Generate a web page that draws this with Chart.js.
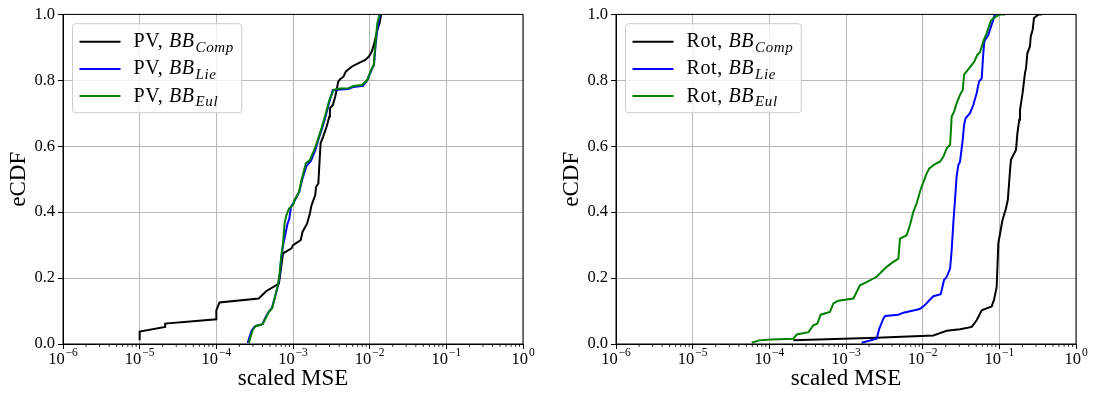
<!DOCTYPE html>
<html>
<head>
<meta charset="utf-8">
<script src="https://cdn.jsdelivr.net/npm/chart.js@4.4.0/dist/chart.umd.min.js"></script>
<style>
html, body { margin: 0; padding: 0; background: #fff; overflow: hidden; }
#wrap { position: relative; width: 1095px; height: 393px; }
canvas { position: absolute; top: 0; }
#pv { left: 0; }
#rot { left: 553px; }
</style>
</head>
<body>
<div id="wrap">
	<canvas id="pv" width="542" height="393" style="width:542px;height:393px"></canvas>
	<canvas id="rot" width="542" height="393" style="width:542px;height:393px"></canvas>
</div>
<script>
// axis ticks
var xTicks = [1e-6, 1e-5, 1e-4, 1e-3, 1e-2, 1e-1, 1];
var yTicks = [0, 0.2, 0.4, 0.6, 0.8, 1.0];

// left panel: PV
var pvLabels = ['PV, BB_Comp', 'PV, BB_Lie', 'PV, BB_Eul'];
var pvCompX = [1.0e-5, 1.0e-5, 2.15e-5, 2.15e-5, 1.0e-4, 1.0e-4, 1.10e-4, 3.57e-4, 4.46e-4, 6.55e-4, 7.41e-4, 9.55e-4, 1.0e-3, 1.26e-3, 1.33e-3, 1.53e-3, 1.66e-3, 1.74e-3, 1.95e-3, 2.0e-3, 2.14e-3, 2.20e-3, 2.29e-3, 2.48e-3, 2.75e-3, 2.98e-3, 3.03e-3, 3.31e-3, 3.55e-3, 3.72e-3, 3.89e-3, 4.11e-3, 4.55e-3, 4.90e-3, 5.89e-3, 7.16e-3, 8.77e-3, 9.77e-3, 1.07e-2, 1.15e-2, 1.26e-2, 1.35e-2, 1.41e-2];
var pvCompY = [0.011, 0.038, 0.052, 0.062, 0.075, 0.102, 0.126, 0.138, 0.160, 0.183, 0.275, 0.29, 0.30, 0.315, 0.34, 0.366, 0.396, 0.42, 0.452, 0.477, 0.487, 0.538, 0.609, 0.63, 0.66, 0.69, 0.715, 0.725, 0.75, 0.773, 0.796, 0.803, 0.811, 0.827, 0.842, 0.852, 0.862, 0.872, 0.888, 0.913, 0.954, 0.974, 1.0];
var pvLieX = [2.57e-4, 2.66e-4, 2.90e-4, 3.20e-4, 4.00e-4, 4.30e-4, 4.80e-4, 5.30e-4, 5.75e-4, 6.40e-4, 6.75e-4, 7.05e-4, 7.50e-4, 7.90e-4, 8.50e-4, 8.95e-4, 9.40e-4, 1.0e-3, 1.06e-3, 1.21e-3, 1.31e-3, 1.50e-3, 1.72e-3, 1.97e-3, 2.10e-3, 2.40e-3, 2.66e-3, 2.98e-3, 3.30e-3, 4.11e-3, 5.30e-3, 6.17e-3, 8.20e-3, 9.30e-3, 1.06e-2, 1.14e-2, 1.20e-2, 1.28e-2, 1.37e-2];
var pvLieY = [0.003, 0.016, 0.042, 0.054, 0.06, 0.077, 0.097, 0.109, 0.138, 0.178, 0.214, 0.264, 0.305, 0.330, 0.366, 0.38, 0.416, 0.425, 0.437, 0.462, 0.497, 0.540, 0.556, 0.590, 0.614, 0.655, 0.69, 0.735, 0.77, 0.772, 0.774, 0.780, 0.783, 0.80, 0.832, 0.847, 0.913, 0.965, 1.0];
var pvEulX = [2.66e-4, 2.75e-4, 2.98e-4, 3.24e-4, 4.03e-4, 4.37e-4, 4.83e-4, 5.37e-4, 5.75e-4, 6.35e-4, 6.68e-4, 7.01e-4, 7.41e-4, 7.76e-4, 8.17e-4, 8.85e-4, 1.0e-3, 1.05e-3, 1.20e-3, 1.29e-3, 1.47e-3, 1.66e-3, 1.93e-3, 2.07e-3, 2.36e-3, 2.61e-3, 2.98e-3, 3.39e-3, 4.11e-3, 5.30e-3, 6.17e-3, 7.94e-3, 9.23e-3, 1.05e-2, 1.13e-2, 1.19e-2, 1.26e-2, 1.35e-2];
var pvEulY = [0.003, 0.016, 0.042, 0.054, 0.06, 0.077, 0.097, 0.109, 0.138, 0.178, 0.214, 0.264, 0.305, 0.366, 0.39, 0.411, 0.421, 0.437, 0.462, 0.497, 0.548, 0.558, 0.594, 0.614, 0.655, 0.69, 0.74, 0.771, 0.775, 0.776, 0.783, 0.786, 0.80, 0.832, 0.847, 0.913, 0.974, 1.0];

// right panel: Rot
var rotLabels = ['Rot, BB_Comp', 'Rot, BB_Lie', 'Rot, BB_Eul'];
var rotCompX = [2.06e-4, 2.51e-3, 1.38e-2, 1.68e-2, 2.06e-2, 3.07e-2, 4.37e-2, 5.06e-2, 5.89e-2, 6.31e-2, 7.94e-2, 8.51e-2, 9.23e-2, 9.70e-2, 1.04e-1, 1.10e-1, 1.22e-1, 1.29e-1, 1.38e-1, 1.42e-1, 1.65e-1, 1.72e-1, 1.82e-1, 1.86e-1, 2.01e-1, 2.16e-1, 2.23e-1, 2.32e-1, 2.51e-1, 2.57e-1, 2.72e-1, 2.83e-1, 3.24e-1, 3.56e-1];
var rotCompY = [0.011, 0.019, 0.026, 0.033, 0.04, 0.045, 0.052, 0.072, 0.102, 0.105, 0.114, 0.133, 0.173, 0.305, 0.345, 0.376, 0.411, 0.437, 0.528, 0.56, 0.589, 0.639, 0.68, 0.71, 0.761, 0.822, 0.837, 0.882, 0.903, 0.933, 0.953, 0.989, 1.0, 1.0];
var rotLieX = [1.60e-3, 2.51e-3, 2.72e-3, 3.07e-3, 3.24e-3, 4.82e-3, 5.62e-3, 8.36e-3, 9.23e-3, 1.07e-2, 1.25e-2, 1.38e-2, 1.72e-2, 1.82e-2, 1.90e-2, 2.06e-2, 2.28e-2, 2.39e-2, 2.51e-2, 2.64e-2, 2.77e-2, 2.92e-2, 3.07e-2, 3.33e-2, 3.47e-2, 3.63e-2, 4.14e-2, 4.57e-2, 5.06e-2, 5.43e-2, 5.89e-2, 6.18e-2, 6.37e-2, 7.19e-2, 7.94e-2, 8.77e-2];
var rotLieY = [0.004, 0.016, 0.047, 0.077, 0.085, 0.089, 0.095, 0.104, 0.107, 0.118, 0.135, 0.145, 0.151, 0.175, 0.194, 0.204, 0.229, 0.285, 0.366, 0.437, 0.508, 0.543, 0.553, 0.619, 0.665, 0.685, 0.70, 0.725, 0.761, 0.796, 0.806, 0.882, 0.918, 0.938, 0.969, 1.0];
var rotEulX = [5.89e-5, 7.41e-5, 1.05e-4, 2.06e-4, 2.28e-4, 3.24e-4, 3.75e-4, 4.23e-4, 4.68e-4, 6.17e-4, 6.84e-4, 7.94e-4, 1.25e-3, 1.52e-3, 1.86e-3, 2.51e-3, 3.39e-3, 4.14e-3, 4.82e-3, 5.06e-3, 6.18e-3, 6.84e-3, 7.55e-3, 8.36e-3, 9.23e-3, 9.70e-3, 1.13e-2, 1.22e-2, 1.45e-2, 1.68e-2, 1.86e-2, 2.06e-2, 2.28e-2, 2.39e-2, 2.57e-2, 2.77e-2, 3.07e-2, 3.33e-2, 3.47e-2, 3.75e-2, 4.37e-2, 4.72e-2, 5.16e-2, 5.60e-2, 6.18e-2, 6.84e-2, 7.71e-2, 8.36e-2, 1.02e-1, 1.19e-1];
var rotEulY = [0.004, 0.011, 0.014, 0.016, 0.029, 0.036, 0.057, 0.062, 0.089, 0.097, 0.123, 0.131, 0.138, 0.178, 0.188, 0.204, 0.234, 0.249, 0.259, 0.32, 0.33, 0.361, 0.401, 0.427, 0.462, 0.477, 0.518, 0.533, 0.546, 0.553, 0.568, 0.594, 0.604, 0.69, 0.705, 0.73, 0.756, 0.771, 0.817, 0.827, 0.847, 0.857, 0.877, 0.885, 0.918, 0.943, 0.979, 0.989, 1.0, 1.0];

var lineColors = ['#000000', '#0000ff', '#008000'];
var FONT = '"Liberation Serif", "DejaVu Serif", serif';

Chart.defaults.font.family = FONT;
Chart.defaults.color = '#000';

function splitLabel(label) {
	var parts = label.split(', ');
	var m = parts[1].split('_');
	return {head: parts[0] + ', ', base: m[0], sub: m[1]};
}

// frame, minor ticks and 10^k labels on the log axis
var axesFrame = {
	id: 'axesFrame',
	afterDatasetsDraw: function(chart) {
		var ctx = chart.ctx, a = chart.chartArea, xs = chart.scales.x;
		ctx.save();
		ctx.strokeStyle = '#000';
		ctx.lineWidth = 1;
		ctx.strokeRect(a.left, a.top, a.right - a.left, a.bottom - a.top);
		ctx.lineWidth = 0.8;
		ctx.beginPath();
		for (var k = 0; k < xTicks.length - 1; k++) {
			for (var m = 2; m < 10; m++) {
				var px = xs.getPixelForValue(m * xTicks[k]);
				ctx.moveTo(px, a.bottom);
				ctx.lineTo(px, a.bottom + 3);
			}
		}
		ctx.stroke();
		ctx.fillStyle = '#000';
		ctx.textAlign = 'left';
		ctx.textBaseline = 'alphabetic';
		xs.ticks.forEach(function(t) {
			var exp = String(Math.round(Math.log10(t.value))).replace('-', '\u2212');
			ctx.font = '16.5px ' + FONT;
			var w1 = ctx.measureText('10').width;
			ctx.font = '11.5px ' + FONT;
			var w2 = ctx.measureText(exp).width;
			var x0 = xs.getPixelForValue(t.value) - (w1 + w2 + 1) / 2;
			var base = a.bottom + 19.5;
			ctx.font = '16.5px ' + FONT;
			ctx.fillText('10', x0, base);
			ctx.font = '11.5px ' + FONT;
			ctx.fillText(exp, x0 + w1 + 1, base - 7.3);
		});
		ctx.restore();
	}
};

// matplotlib style legend box, upper left
var boxLegend = {
	id: 'boxLegend',
	afterDraw: function(chart) {
		var ctx = chart.ctx, area = chart.chartArea, sets = chart.data.datasets;
		var fMain = '20px ' + FONT, fIt = 'italic 20px ' + FONT, fSub = 'italic 15px ' + FONT;
		var rows = [], maxW = 0;
		ctx.save();
		ctx.letterSpacing = '0.6px';
		sets.forEach(function(ds) {
			var p = splitLabel(ds.label);
			ctx.font = fMain; p.w1 = ctx.measureText(p.head).width;
			ctx.font = fIt; p.w2 = ctx.measureText(p.base).width;
			ctx.font = fSub; p.w3 = ctx.measureText(p.sub).width;
			maxW = Math.max(maxW, p.w1 + p.w2 + p.w3 + 1);
			rows.push(p);
		});
		var x = area.left + 9.5, y = area.top + 9.3, w = 61 + maxW + 8, h = 89;
		ctx.beginPath();
		ctx.roundRect(x, y, w, h, 3);
		ctx.fillStyle = 'rgba(255,255,255,0.8)';
		ctx.fill();
		ctx.strokeStyle = '#cccccc';
		ctx.lineWidth = 1;
		ctx.stroke();
		rows.forEach(function(p, i) {
			var cy = y + 18 + i * 27.2;
			ctx.beginPath();
			ctx.moveTo(x + 7, cy);
			ctx.lineTo(x + 48, cy);
			ctx.strokeStyle = sets[i].borderColor;
			ctx.lineWidth = 2;
			ctx.stroke();
			var tx = x + 61, base = cy + 5.5;
			ctx.fillStyle = '#000';
			ctx.textAlign = 'left';
			ctx.textBaseline = 'alphabetic';
			ctx.font = fMain; ctx.fillText(p.head, tx, base); tx += p.w1;
			ctx.font = fIt; ctx.fillText(p.base, tx, base); tx += p.w2 + 1;
			ctx.font = fSub; ctx.fillText(p.sub, tx, base + 4.5);
		});
		ctx.restore();
	}
};

function initData(labels, xs, ys) {
	var datasets = [];
	for (var i = 0; i < labels.length; i++) {
		var pts = [];
		for (var j = 0; j < xs[i].length; j++) pts.push({x: xs[i][j], y: ys[i][j]});
		datasets.push({
			label: labels[i],
			data: pts,
			borderColor: lineColors[i],
			backgroundColor: lineColors[i],
			borderWidth: 2,
			pointRadius: 0,
			tension: 0,
			fill: false,
			order: labels.length - 1 - i
		});
	}
	return {datasets: datasets};
}

function initConfig(data) {
	return {
		type: 'line',
		data: data,
		options: {
			responsive: false,
			animation: false,
			events: [],
			layout: {padding: {top: 14.4, right: 19, left: 0, bottom: 0}},
			plugins: {legend: {display: false}, tooltip: {enabled: false}},
			scales: {
				x: {
					type: 'logarithmic',
					min: 1e-6,
					max: 1,
					afterBuildTicks: function(s) { s.ticks = xTicks.map(function(v) { return {value: v, major: true}; }); },
					afterFit: function(s) { s.height = 49; },
					ticks: {display: false, autoSkip: false, maxRotation: 0},
					grid: {color: '#b8b8b8', lineWidth: 1, tickColor: '#000', tickLength: 5, tickWidth: 1},
					border: {color: '#000', width: 1},
					title: {display: true, text: 'scaled MSE', color: '#000', font: {size: 23}, padding: {top: 0, bottom: 0}}
				},
				y: {
					type: 'linear',
					min: 0,
					max: 1,
					afterBuildTicks: function(s) { s.ticks = yTicks.map(function(v) { return {value: v}; }); },
					afterFit: function(s) { s.width = 63; },
					ticks: {padding: 3, color: '#000', font: {size: 16.5}, callback: function(v) { return Number(v).toFixed(1); }},
					grid: {color: '#b8b8b8', lineWidth: 1, tickColor: '#000', tickLength: 5, tickWidth: 1},
					border: {color: '#000', width: 1},
					title: {display: true, text: 'eCDF', color: '#000', font: {size: 23}, padding: {top: 5.5, bottom: 0}}
				}
			}
		},
		plugins: [axesFrame, boxLegend]
	};
}

function showChart(id, labels, xs, ys) {
	var ctx = document.getElementById(id).getContext('2d');
	return new Chart(ctx, initConfig(initData(labels, xs, ys)));
}

window.charts = {};
window.charts.pv = showChart('pv', pvLabels, [pvCompX, pvLieX, pvEulX], [pvCompY, pvLieY, pvEulY]);
window.charts.rot = showChart('rot', rotLabels, [rotCompX, rotLieX, rotEulX], [rotCompY, rotLieY, rotEulY]);
</script>
</body>
</html>
